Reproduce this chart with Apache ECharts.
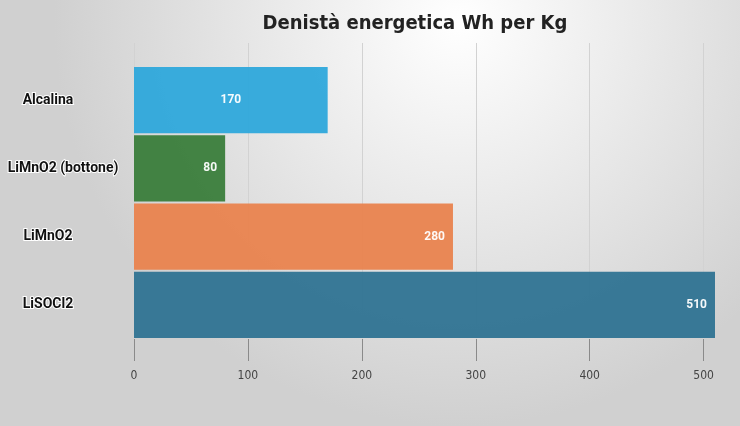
<!DOCTYPE html>
<html><head><meta charset="utf-8">
<script src="https://cdn.jsdelivr.net/npm/echarts@6/dist/echarts.min.js"></script>
<style>html,body{margin:0;padding:0;}#c{width:740px;height:426px;}</style>
</head><body><div id="c"></div>
<script>
const titleText = 'Denistà energetica Wh per Kg';
const categories = ['Alcalina', 'LiMnO2 (bottone)', 'LiMnO2', 'LiSOCl2'];
const values = [170, 80, 280, 510];
const xTicks = [0, 100, 200, 300, 400, 500];

const colors = ['#2EA8DB', '#3A7D3B', '#E9834E', '#2F7392'];
const labelPos = ['inside', 'insideRight', 'insideRight', 'insideRight'];
const catPadLeft = [0, 30, 0, 0];
const condensed = '"DejaVu Sans Condensed", "Liberation Sans Narrow", Roboto, sans-serif';

const chart = echarts.init(document.getElementById('c'));
const xBase = {
  type: 'value', min: 0, max: 510, interval: 100
};
const catLabel = {
  align: 'center', fontFamily: 'Roboto', fontWeight: 'bold', fontSize: 14,
  color: '#111', textBorderColor: '#ffffff', textBorderWidth: 2
};
chart.setOption({
  backgroundColor: {
    type: 'radial', x: 0.62, y: 0.05, r: 0.95,
    colorStops: [{offset: 0, color: '#ffffff'}, {offset: 1, color: '#d0d0d0'}]
  },
  title: {
    text: titleText, left: 410, textAlign: 'center', top: 9,
    textStyle: {fontFamily: condensed, fontWeight: 'bold', fontSize: 20, color: '#222'}
  },
  grid: [
    {left: 134, right: 25, top: 66, height: 273, outerBoundsMode: 'none', containLabel: false},
    {left: 134, right: 25, top: 43, height: 23, outerBoundsMode: 'none', containLabel: false}
  ],
  xAxis: [
    Object.assign({}, xBase, {
      gridIndex: 0,
      axisLine: {show: false},
      axisTick: {show: true, length: 22, customValues: xTicks, lineStyle: {color: '#8a8a8a', width: 1}},
      axisLabel: {customValues: xTicks, margin: 31, fontFamily: condensed, fontSize: 12, color: '#444'},
      splitLine: {show: true, lineStyle: {color: '#d2d2d2', width: 1}}
    }),
    Object.assign({}, xBase, {
      gridIndex: 1,
      axisLine: {show: false},
      axisTick: {show: false, customValues: xTicks},
      axisLabel: {show: false},
      splitLine: {show: true, lineStyle: {color: '#d2d2d2', width: 1}}
    })
  ],
  yAxis: [
    {
      type: 'category', gridIndex: 0, inverse: true,
      data: categories.map((c, i) => ({value: c, textStyle: Object.assign({}, catLabel, {padding: [0, 0, 0, catPadLeft[i]]})})),
      axisLine: {show: false}, axisTick: {show: false},
      axisLabel: Object.assign({margin: 86}, catLabel)
    },
    {type: 'category', gridIndex: 1, data: [''], show: false}
  ],
  series: [{
    type: 'bar', xAxisIndex: 0, yAxisIndex: 0,
    barCategoryGap: '3%',
    data: values.map((v, i) => ({
      value: v,
      itemStyle: {color: colors[i], opacity: 0.95},
      label: {position: labelPos[i]}
    })),
    label: {
      show: true, distance: 8, color: '#fff', fontWeight: 'bold', fontSize: 12, fontFamily: 'Roboto'
    },
    silent: true
  }],
  animation: false
});
</script></body></html>
